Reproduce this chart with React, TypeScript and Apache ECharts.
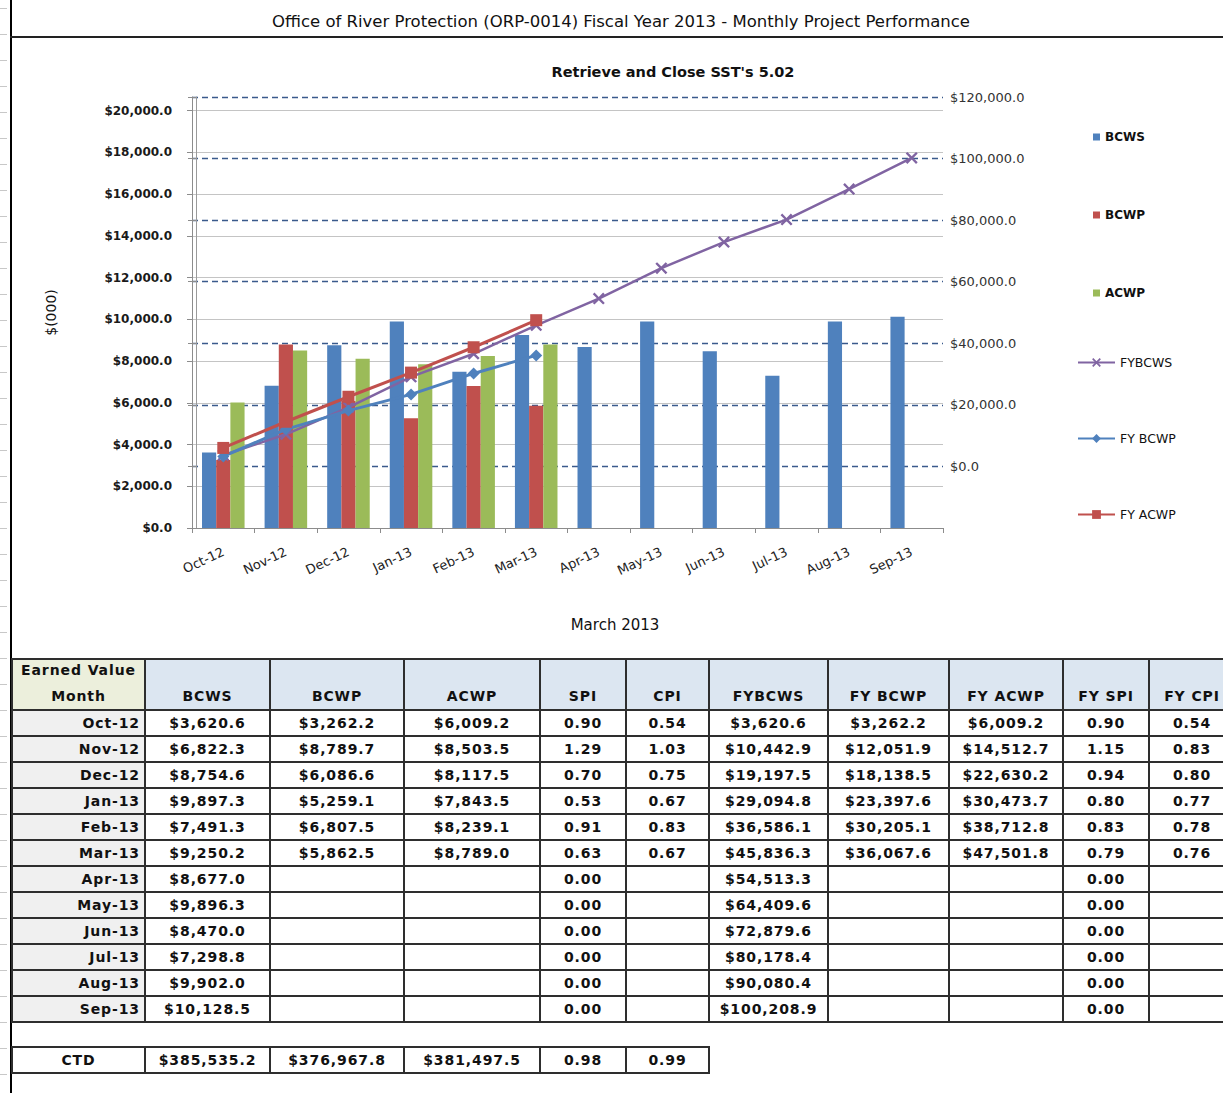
import React, { useEffect, useRef } from 'react';
import * as echarts from 'echarts';

// ---------- data ----------
const months = ['Oct-12', 'Nov-12', 'Dec-12', 'Jan-13', 'Feb-13', 'Mar-13', 'Apr-13', 'May-13', 'Jun-13', 'Jul-13', 'Aug-13', 'Sep-13'];
const bcws = [3620.6, 6822.3, 8754.6, 9897.3, 7491.3, 9250.2, 8677.0, 9896.3, 8470.0, 7298.8, 9902.0, 10128.5];
const bcwp: (number | null)[] = [3262.2, 8789.7, 6086.6, 5259.1, 6807.5, 5862.5, null, null, null, null, null, null];
const acwp: (number | null)[] = [6009.2, 8503.5, 8117.5, 7843.5, 8239.1, 8789.0, null, null, null, null, null, null];
const spi = [0.90, 1.29, 0.70, 0.53, 0.91, 0.63, 0, 0, 0, 0, 0, 0];
const cpi: (number | null)[] = [0.54, 1.03, 0.75, 0.67, 0.83, 0.67, null, null, null, null, null, null];
const fyBcws = [3620.6, 10442.9, 19197.5, 29094.8, 36586.1, 45836.3, 54513.3, 64409.6, 72879.6, 80178.4, 90080.4, 100208.9];
const fyBcwp: (number | null)[] = [3262.2, 12051.9, 18138.5, 23397.6, 30205.1, 36067.6, null, null, null, null, null, null];
const fyAcwp: (number | null)[] = [6009.2, 14512.7, 22630.2, 30473.7, 38712.8, 47501.8, null, null, null, null, null, null];
const fySpi = [0.90, 1.15, 0.94, 0.80, 0.83, 0.79, 0, 0, 0, 0, 0, 0];
const fyCpi: (number | null)[] = [0.54, 0.83, 0.80, 0.77, 0.78, 0.76, null, null, null, null, null, null];
const ctdLabel = 'CTD';
const ctdMoney = [385535.2, 376967.8, 381497.5];
const ctdRatio = [0.98, 0.99];
const tableHeaders = ['BCWS', 'BCWP', 'ACWP', 'SPI', 'CPI', 'FYBCWS', 'FY BCWP', 'FY ACWP', 'FY SPI', 'FY CPI'];
const firstHeader = ['Earned Value', 'Month'];

const pageTitle = 'Office of River Protection (ORP-0014) Fiscal Year 2013 - Monthly Project Performance';
const chartTitle = "Retrieve and Close SST's 5.02";
const xName = 'March 2013';
const yName = '$(000)';

// ---------- helpers ----------
const money = (v: number | null) =>
  v == null ? '' : '$' + v.toLocaleString('en-US', { minimumFractionDigits: 1, maximumFractionDigits: 1 });
const ratio = (v: number | null) => (v == null ? '' : v.toFixed(2));

const AX_FONT = "'DejaVu Sans', sans-serif";
const TB_FONT = "'DejaVu Sans', sans-serif";

const C_BLUE = '#4F81BD';
const C_RED = '#C0504D';
const C_GREEN = '#9BBB59';
const C_PURPLE = '#8064A2';

const X_SYMBOL = 'path://M0,1.4L1.4,0L5,3.6L8.6,0L10,1.4L6.4,5L10,8.6L8.6,10L5,6.4L1.4,10L0,8.6L3.6,5Z';

// layout
const CHART_H = 655;
const GRID_L = 192;
const GRID_R = 943;
const GRID_T = 97;
const GRID_B = 528;
const LEFT_MAX = 20000 * (GRID_B - GRID_T) / (GRID_B - 110.7);

const colEdges = [12, 145, 270, 404, 540, 626, 709, 828, 949, 1063, 1149, 1235];
const HEADER_TOP = 659;
const HEADER_H = 51;
const ROW_H = 26;
const CTD_TOP = 1047;

function buildOption(): echarts.EChartsOption {
  const barCommon = { type: 'bar' as const, barGap: '0%', barCategoryGap: '32%', yAxisIndex: 0 };
  return {
    animation: false,
    textStyle: { fontFamily: AX_FONT },
    graphic: [
      {
        type: 'text', x: 621, y: 21,
        style: { text: pageTitle, textAlign: 'center', textVerticalAlign: 'middle', fontSize: 16.5, fontFamily: AX_FONT, fill: '#111' },
      },
      {
        type: 'text', x: 673, y: 72,
        style: { text: chartTitle, textAlign: 'center', textVerticalAlign: 'middle', fontSize: 14.5, fontWeight: 'bold', fontFamily: AX_FONT, fill: '#111' },
      },
      {
        type: 'text', x: 615, y: 625,
        style: { text: xName, textAlign: 'center', textVerticalAlign: 'middle', fontSize: 15, fontFamily: AX_FONT, fill: '#111' },
      },
    ],
    legend: [
      {
        data: ['BCWS', 'BCWP', 'ACWP'],
        orient: 'vertical', left: 1088, top: 126,
        itemWidth: 7, itemHeight: 7, itemGap: 66, icon: 'rect',
        textStyle: { fontSize: 12, fontWeight: 'bold', color: '#111', fontFamily: AX_FONT },
      },
      {
        data: ['FYBCWS', 'FY BCWP', 'FY ACWP'],
        orient: 'vertical', left: 1072, top: 351,
        itemWidth: 37, itemHeight: 11, itemGap: 63,
        textStyle: { fontSize: 12.5, color: '#111', fontFamily: AX_FONT },
      },
    ],
    grid: {
      left: GRID_L, right: 1223 - GRID_R, top: GRID_T, bottom: CHART_H - GRID_B,
      containLabel: false, outerBoundsMode: 'none',
    } as any,
    xAxis: {
      type: 'category',
      data: months,
      boundaryGap: true,
      axisLine: { lineStyle: { color: '#8c8c8c', width: 1 } },
      axisTick: { show: true, length: 5, lineStyle: { color: '#8c8c8c' } },
      axisLabel: { interval: 0, rotate: 25, fontSize: 13, color: '#222', margin: 23, fontFamily: AX_FONT },
    },
    yAxis: [
      {
        type: 'value', position: 'left', min: 0, max: LEFT_MAX, interval: 2000,
        axisLine: { show: true, lineStyle: { color: '#8c8c8c' } },
        axisTick: { show: true, length: 5, lineStyle: { color: '#8c8c8c' } },
        axisLabel: {
          formatter: (v: number) => money(v), showMaxLabel: false, fontSize: 12, fontWeight: 'bold',
          color: '#1a1a1a', margin: 20, fontFamily: AX_FONT,
        },
        splitLine: { show: true, showMaxLine: false, lineStyle: { color: '#C4C4C4', width: 1 } } as any,
        name: yName, nameLocation: 'middle', nameGap: 134, nameRotate: 90,
        nameTextStyle: { fontSize: 14, color: '#111', fontFamily: AX_FONT },
      },
      {
        type: 'value', position: 'right', min: -20000, max: 120000, interval: 20000,
        axisLine: { show: false },
        axisTick: { show: false },
        axisLabel: {
          formatter: (v: number) => money(v), showMinLabel: false, fontSize: 13,
          color: '#333', margin: 7, fontFamily: AX_FONT,
        },
        splitLine: { show: true, showMinLine: false, lineStyle: { color: '#3A5A8C', width: 1.3, type: [6, 4] } } as any,
      },
      {
        type: 'value', position: 'left', offset: -4, min: -20000, max: 120000, interval: 20000,
        axisLine: { show: true, lineStyle: { color: '#9a9a9a' } },
        axisTick: { show: true, length: 8, lineStyle: { color: '#8c8c8c' } },
        axisLabel: { show: false },
        splitLine: { show: false },
      },
    ],
    series: [
      { ...barCommon, name: 'BCWS', data: bcws, itemStyle: { color: C_BLUE } },
      { ...barCommon, name: 'BCWP', data: bcwp, itemStyle: { color: C_RED } },
      { ...barCommon, name: 'ACWP', data: acwp, itemStyle: { color: C_GREEN } },
      {
        type: 'line', name: 'FYBCWS', yAxisIndex: 1, data: fyBcws, z: 4,
        symbol: X_SYMBOL, symbolSize: 12,
        lineStyle: { color: C_PURPLE, width: 2.5 }, itemStyle: { color: C_PURPLE },
      },
      {
        type: 'line', name: 'FY BCWP', yAxisIndex: 1, data: fyBcwp, z: 5,
        symbol: 'diamond', symbolSize: 12,
        lineStyle: { color: C_BLUE, width: 3 }, itemStyle: { color: C_BLUE },
      },
      {
        type: 'line', name: 'FY ACWP', yAxisIndex: 1, data: fyAcwp, z: 6,
        symbol: 'rect', symbolSize: 12,
        lineStyle: { color: C_RED, width: 3 }, itemStyle: { color: C_RED },
      },
    ],
  } as echarts.EChartsOption;
}

type CellProps = {
  x0: number; x1: number; y: number; h: number; bg: string;
  justify: string; alignItems?: string; pr?: number; children?: React.ReactNode;
};

function Cell({ x0, x1, y, h, bg, justify, alignItems = 'center', pr = 0, children }: CellProps) {
  return (
    <div
      style={{
        position: 'absolute', left: x0 - 1, top: y - 1, width: x1 - x0 + 2, height: h + 2,
        boxSizing: 'border-box', border: '2px solid #2e2e2e', background: bg,
        display: 'flex', justifyContent: justify, alignItems, paddingRight: pr,
        fontFamily: TB_FONT, fontWeight: 'bold', fontSize: 14, letterSpacing: '0.9px', color: '#111',
        whiteSpace: 'nowrap', overflow: 'hidden',
      }}
    >
      {children}
    </div>
  );
}

export default function App() {
  const ref = useRef<HTMLDivElement>(null);

  useEffect(() => {
    if (!ref.current) return;
    const chart = echarts.init(ref.current, null, { renderer: 'svg' });
    chart.setOption(buildOption());
    return () => chart.dispose();
  }, []);

  const rows = months.map((m, i) => [
    m, money(bcws[i]), money(bcwp[i]), money(acwp[i]), ratio(spi[i]), ratio(cpi[i]),
    money(fyBcws[i]), money(fyBcwp[i]), money(fyAcwp[i]), ratio(fySpi[i]), ratio(fyCpi[i]),
  ]);
  const ctdRow = [ctdLabel, ...ctdMoney.map(money), ...ctdRatio.map(ratio)];

  const marks: React.ReactNode[] = [];
  for (let y = 8; y < 1093; y += 26) {
    marks.push(<div key={'m' + y} style={{ position: 'absolute', left: 0, top: y, width: 7, height: 1, background: '#c8c8c8' }} />);
  }

  const cells: React.ReactNode[] = [];
  cells.push(
    <Cell key="h0" x0={colEdges[0]} x1={colEdges[1]} y={HEADER_TOP} h={HEADER_H} bg="#ECEFDC" justify="center" alignItems="flex-end">
      <div style={{ textAlign: 'center', lineHeight: '26px' }}>
        {firstHeader.map((t) => <div key={t}>{t}</div>)}
      </div>
    </Cell>
  );
  tableHeaders.forEach((hname, j) => {
    cells.push(
      <Cell key={'h' + (j + 1)} x0={colEdges[j + 1]} x1={colEdges[j + 2]} y={HEADER_TOP} h={HEADER_H} bg="#DCE6F1" justify="center" alignItems="flex-end">
        <div style={{ lineHeight: '26px' }}>{hname}</div>
      </Cell>
    );
  });
  rows.forEach((r, i) => {
    const y = HEADER_TOP + HEADER_H + i * ROW_H;
    r.forEach((txt, j) => {
      cells.push(
        <Cell key={`r${i}c${j}`} x0={colEdges[j]} x1={colEdges[j + 1]} y={y} h={ROW_H}
          bg={j === 0 ? '#F0F0F0' : '#FFFFFF'} justify={j === 0 ? 'flex-end' : 'center'} pr={j === 0 ? 4 : 0}>
          {txt}
        </Cell>
      );
    });
  });
  ctdRow.forEach((txt, j) => {
    cells.push(
      <Cell key={`ctd${j}`} x0={colEdges[j]} x1={colEdges[j + 1]} y={CTD_TOP} h={ROW_H} bg="#FFFFFF" justify="center">
        {txt}
      </Cell>
    );
  });

  return (
    <div style={{ position: 'absolute', left: 0, top: 0, width: 1223, height: 1093, overflow: 'hidden', background: '#fff' }}>
      {marks}
      <div style={{ position: 'absolute', left: 10, top: 0, width: 2, height: 1093, background: '#000' }} />
      <div style={{ position: 'absolute', left: 10, top: 36, width: 1213, height: 2, background: '#222' }} />
      <div ref={ref} style={{ position: 'absolute', left: 0, top: 0, width: 1223, height: CHART_H }} />
      {cells}
    </div>
  );
}
